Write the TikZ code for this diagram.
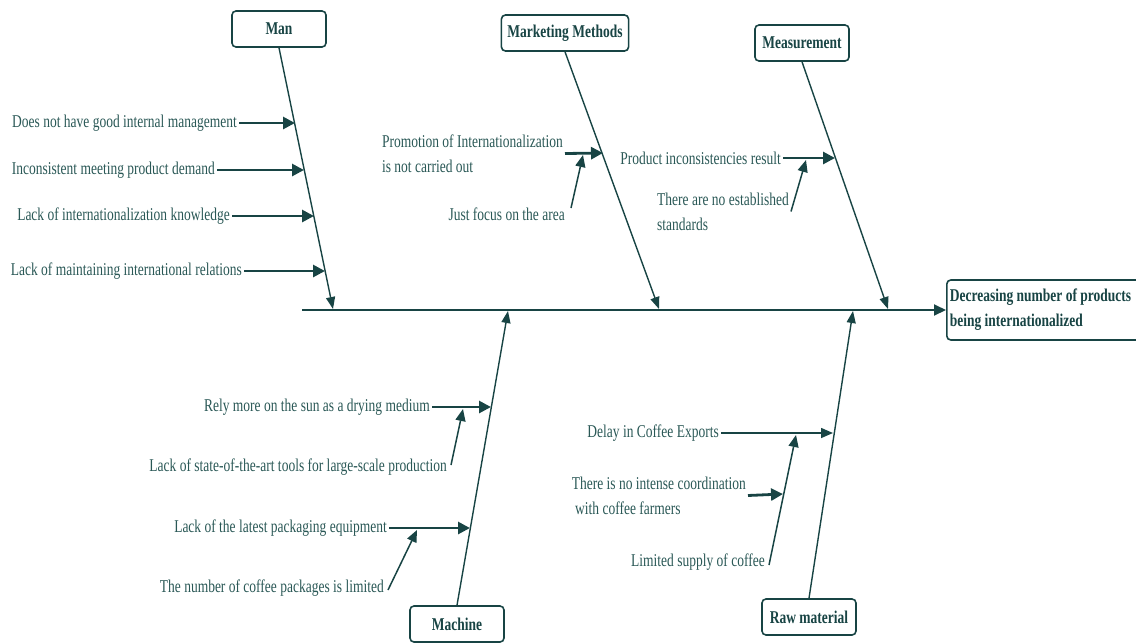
\documentclass[tikz,border=0pt]{standalone}
\usepackage{fontspec}
\setmainfont{Liberation Serif}[FakeStretch=0.75]
\usepackage{xcolor}
\usepackage{tikz}
\usetikzlibrary{arrows.meta, positioning, calc}
\definecolor{bonedark}{RGB}{24, 68, 68}
\definecolor{bonetext}{RGB}{42, 88, 86}

\begin{document}
\begin{tikzpicture}[
        x=1pt, y=-1pt,
        catbox/.style={rectangle, draw=bonedark, line width=1.6pt, rounded corners=4pt, minimum width=94pt, minimum height=36pt, inner xsep=6pt, text=bonedark, font=\fontsize{18}{25}\selectfont\bfseries},
        effectbox/.style={rectangle, draw=bonedark, line width=1.6pt, rounded corners=4pt, minimum height=60pt, text width=190pt, align=flush left, inner sep=3pt, text=bonedark, font=\fontsize{18}{25}\selectfont\bfseries},
        cause/.style={inner sep=2pt, text=bonetext, align=left, font=\fontsize{18}{25}\selectfont},
        spine/.style={draw=bonedark, line width=2pt, -{Triangle[length=12pt, width=11pt]}},
        rib/.style={draw=bonedark, line width=1.4pt, -{Triangle[length=12pt, width=9pt]}},
        causearrow/.style={draw=bonedark, line width=2.8pt, -{Triangle[length=12pt, width=12pt]}},
        thinarrow/.style={draw=bonedark, line width=1.5pt, -{Triangle[length=12pt, width=10pt]}}
    ]
        \useasboundingbox (0,0) rectangle (1136,643);

        % Head and spine
        \node[effectbox, anchor=west] (effect) at (946,310) {Decreasing number of products\\being internationalized};
        \coordinate (tail) at (302,310);
        \draw[spine] (tail) -- (effect.west);

        % Categories
        \node[catbox] (man) at (279,29) {Man};
        \node[catbox] (market) at (565,33) {Marketing Methods};
        \node[catbox] (measure) at (802,43) {Measurement};
        \node[catbox] (machine) at (457,624) {Machine};
        \node[catbox] (raw) at (809,617) {Raw material};

        % Ribs
        \coordinate (manend) at (333,309);
        \coordinate (marketend) at (659,309);
        \coordinate (measureend) at (888,309);
        \coordinate (machineend) at (508,311);
        \coordinate (rawend) at (853,311);
        \draw[rib] (man.south) -- (manend);
        \draw[rib] (market.south) -- (marketend);
        \draw[rib] (measure.south) -- (measureend);
        \draw[rib] (machine.north) -- (machineend);
        \draw[rib] (raw.north) -- (rawend);

        % Man
        \coordinate (man1) at (295,123);
        \coordinate (man2) at (304,170);
        \coordinate (man3) at (314,216);
        \coordinate (man4) at (325,271);
        \node[cause, anchor=east] (mgmt) at (239,123) {Does not have good internal management};
        \node[cause, anchor=east] (demand) at (217,170) {Inconsistent meeting product demand};
        \node[cause, anchor=east] (knowledge) at (232,216) {Lack of internationalization knowledge};
        \node[cause, anchor=east] (relations) at (244,271) {Lack of maintaining international relations};
        \draw[causearrow] (mgmt.east) -- (man1);
        \draw[causearrow] (demand.east) -- (man2);
        \draw[causearrow] (knowledge.east) -- (man3);
        \draw[causearrow] (relations.east) -- (man4);

        % Marketing Methods
        \coordinate (mkt1) at (603,153);
        \coordinate (mkt1a) at (583,155);
        \node[cause, anchor=east] (promo) at (565,153.5) {Promotion of Internationalization\\is not carried out};
        \node[cause, anchor=east] (focus) at (567,214) {Just focus on the area};
        \draw[causearrow] (promo.east) -- (mkt1);
        \draw[thinarrow] ([shift={(4,-6)}]focus.east) -- (mkt1a);

        % Measurement
        \coordinate (msr1) at (835,158);
        \coordinate (msr1a) at (806,160);
        \node[cause, anchor=east] (inconsist) at (783,158) {Product inconsistencies result};
        \node[cause, anchor=east] (standards) at (791,211.5) {There are no established\\standards};
        \draw[causearrow] (inconsist.east) -- (msr1);
        \draw[thinarrow] (standards.east) -- (msr1a);

        % Machine
        \coordinate (mch1) at (491,407);
        \coordinate (mch1a) at (463,409);
        \coordinate (mch2) at (470,528);
        \coordinate (mch2a) at (417,530);
        \node[cause, anchor=east] (sun) at (432,407) {Rely more on the sun as a drying medium};
        \node[cause, anchor=east] (tools) at (449,467) {Lack of state-of-the-art tools for large-scale production};
        \node[cause, anchor=east] (packing) at (389,528) {Lack of the latest packaging equipment};
        \node[cause, anchor=east] (packages) at (386,588) {The number of coffee packages is limited};
        \draw[causearrow] (sun.east) -- (mch1);
        \draw[thinarrow] ([shift={(2,-2)}]tools.east) -- (mch1a);
        \draw[causearrow] (packing.east) -- (mch2);
        \draw[thinarrow] ([shift={(2,2)}]packages.east) -- (mch2a);

        % Raw material
        \coordinate (raw1) at (833,433);
        \coordinate (raw1a) at (796,435);
        \coordinate (raw2) at (783,494);
        \node[cause, anchor=east] (delay) at (721,433) {Delay in Coffee Exports};
        \node[cause, anchor=east] (coord) at (748,495.5) {There is no intense coordination\\\ with coffee farmers};
        \node[cause, anchor=east] (supply) at (767,562) {Limited supply of coffee};
        \draw[thinarrow] (delay.east) -- (raw1);
        \draw[causearrow] (coord.east) -- (raw2);
        \draw[thinarrow] ([shift={(2,3)}]supply.east) -- (raw1a);
    \end{tikzpicture}
\end{document}
